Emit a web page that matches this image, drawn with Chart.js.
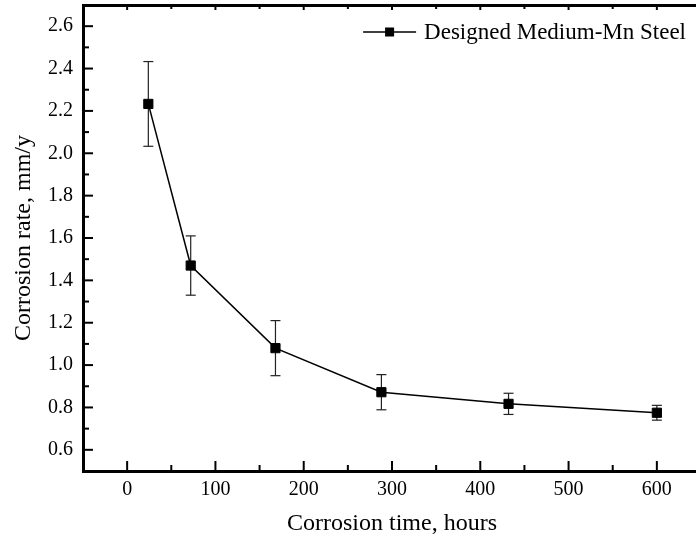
<!DOCTYPE html>
<html>
<head>
<meta charset="utf-8">
<script src="https://cdn.jsdelivr.net/npm/chart.js@4.4.1/dist/chart.umd.min.js"></script>
<style>
  html, body { margin: 0; padding: 0; background: #fff; overflow: hidden; }
  canvas { display: block; }
</style>
</head>
<body>
<canvas id="chart" width="705" height="546"></canvas>
<script>
// Data
const hours = [24, 72, 168, 288, 432, 600];
const rate = [2.233, 1.47, 1.08, 0.872, 0.817, 0.775];
const rateErr = [0.2, 0.14, 0.13, 0.083, 0.05, 0.035];
const xTicks = [0, 100, 200, 300, 400, 500, 600];
const xMinor = [50, 150, 250, 350, 450, 550];
const yTicks = [0.6, 0.8, 1.0, 1.2, 1.4, 1.6, 1.8, 2.0, 2.2, 2.4, 2.6];
const yMinor = [0.7, 0.9, 1.1, 1.3, 1.5, 1.7, 1.9, 2.1, 2.3, 2.5];
const seriesName = 'Designed Medium-Mn Steel';

Chart.defaults.font.family = '"Liberation Serif", "Times New Roman", serif';
Chart.defaults.color = '#000';

function stroke(ctx, x1, y1, x2, y2) {
    ctx.beginPath();
    ctx.moveTo(x1, y1);
    ctx.lineTo(x2, y2);
    ctx.stroke();
}

// Error bars, drawn under the markers
const errorBars = {
    id: 'errorBars',
    beforeDatasetsDraw(chart) {
        const {ctx, scales: {x, y}} = chart;
        ctx.save();
        ctx.strokeStyle = '#222';
        ctx.lineWidth = 1.2;
        hours.forEach((h, i) => {
            const px = x.getPixelForValue(h);
            const top = y.getPixelForValue(rate[i] + rateErr[i]);
            const bot = y.getPixelForValue(rate[i] - rateErr[i]);
            stroke(ctx, px, top, px, bot);
            stroke(ctx, px - 5, top, px + 5, top);
            stroke(ctx, px - 5, bot, px + 5, bot);
        });
        ctx.restore();
    }
};

// Ticks pointing into the plot, plus the legend inside the frame
const frameExtras = {
    id: 'frameExtras',
    afterDraw(chart) {
        const {ctx, chartArea: a, scales: {x, y}} = chart;
        ctx.save();
        ctx.strokeStyle = '#000';
        ctx.lineWidth = 2;
        xTicks.forEach(v => {
            const px = x.getPixelForValue(v);
            stroke(ctx, px, a.bottom, px, a.bottom - 10);
            stroke(ctx, px, a.top, px, a.top + 5);
        });
        xMinor.forEach(v => {
            const px = x.getPixelForValue(v);
            stroke(ctx, px, a.bottom, px, a.bottom - 6);
            stroke(ctx, px, a.top, px, a.top + 4);
        });
        yTicks.forEach(v => {
            const py = y.getPixelForValue(v);
            stroke(ctx, a.left, py, a.left + 10, py);
        });
        yMinor.forEach(v => {
            const py = y.getPixelForValue(v);
            stroke(ctx, a.left, py, a.left + 6, py);
        });

        // legend
        const label = chart.data.datasets[0].label;
        ctx.font = '23px "Liberation Serif", "Times New Roman", serif';
        const tw = ctx.measureText(label).width;
        const textX = a.right - 15 - tw;
        const ly = a.top + 27;
        ctx.lineWidth = 1.5;
        stroke(ctx, textX - 61, ly, textX - 8, ly);
        ctx.fillStyle = '#000';
        ctx.fillRect(textX - 39, ly - 4.5, 9, 9);
        ctx.textBaseline = 'middle';
        ctx.fillText(label, textX, ly + 1);
        ctx.restore();
    }
};

new Chart(document.getElementById('chart'), {
    type: 'line',
    data: {
        datasets: [{
            label: seriesName,
            data: hours.map((h, i) => ({x: h, y: rate[i]})),
            borderColor: '#000',
            borderWidth: 1.5,
            backgroundColor: '#000',
            pointStyle: 'rect',
            pointRadius: 6.5,
            pointBorderWidth: 1,
            pointBorderColor: '#000',
            pointBackgroundColor: '#000',
            tension: 0
        }]
    },
    options: {
        responsive: false,
        animation: false,
        layout: {autoPadding: false, padding: {left: 0, right: 4, top: 0, bottom: 0}},
        plugins: {
            legend: {display: false},
            tooltip: {enabled: false}
        },
        scales: {
            x: {
                type: 'linear',
                position: 'bottom',
                min: -50,
                max: 650,
                afterBuildTicks: s => { s.ticks = xTicks.map(v => ({value: v})); },
                afterFit: s => { s.height = 75; s.paddingLeft = 0; s.paddingRight = 0; },
                grid: {drawOnChartArea: false, drawTicks: false, color: 'rgba(0,0,0,0)'},
                border: {display: true, width: 3, color: '#000'},
                ticks: {font: {size: 20}, padding: 7, maxRotation: 0},
                title: {
                    display: true,
                    text: 'Corrosion time, hours',
                    font: {size: 24},
                    padding: {top: 0, bottom: 8}
                }
            },
            x2: {
                type: 'linear',
                position: 'top',
                min: -50,
                max: 650,
                afterFit: s => { s.height = 5; s.paddingLeft = 0; s.paddingRight = 0; },
                grid: {drawOnChartArea: false, drawTicks: false, color: 'rgba(0,0,0,0)'},
                border: {display: true, width: 3, color: '#000'},
                ticks: {display: false}
            },
            y: {
                type: 'linear',
                position: 'left',
                min: 0.5,
                max: 2.7,
                afterBuildTicks: s => { s.ticks = yTicks.map(v => ({value: v})); },
                afterFit: s => { s.width = 83; s.paddingTop = 0; s.paddingBottom = 0; },
                grid: {drawOnChartArea: false, drawTicks: false, color: 'rgba(0,0,0,0)'},
                border: {display: true, width: 3, color: '#000'},
                ticks: {font: {size: 20}, padding: 10, callback: v => v.toFixed(1)},
                title: {
                    display: true,
                    text: 'Corrosion rate, mm/y',
                    font: {size: 24},
                    padding: {top: 9, bottom: 0}
                }
            }
        }
    },
    plugins: [errorBars, frameExtras]
});
</script>
</body>
</html>
